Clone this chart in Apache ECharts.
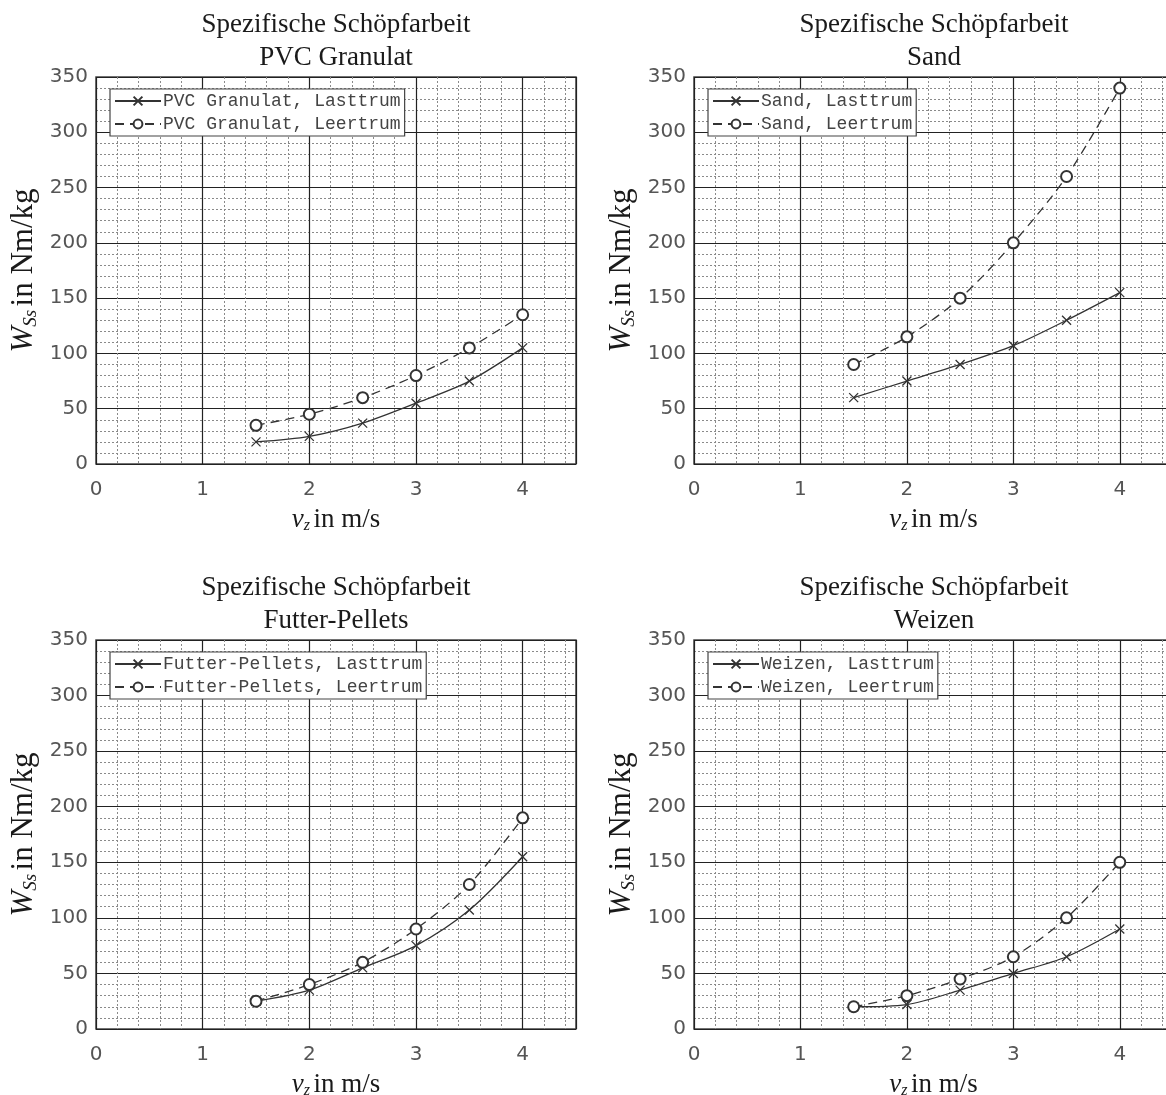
<!DOCTYPE html>
<html lang="de">
<head>
<meta charset="UTF-8">
<title>Spezifische Schöpfarbeit</title>
<script src="https://cdn.jsdelivr.net/npm/echarts@6/dist/echarts.min.js"></script>
<style>
  html, body { margin: 0; padding: 0; background: #fff; }
  #chart { width: 1166px; height: 1095px; }
</style>
</head>
<body>
<div id="chart"></div>
<script>
// Daten
var speeds = [1.5, 2, 2.5, 3, 3.5, 4];
var materials = ['PVC Granulat', 'Sand', 'Futter-Pellets', 'Weizen'];
var pvcLast = [20, 25, 37, 55, 75, 105];
var pvcLeer = [35, 45, 60, 80, 105, 135];
var sandLast = [60, 75, 90, 107, 130, 155];
var sandLeer = [90, 115, 150, 200, 260, 340];
var futterLast = [25, 35, 55, 75, 107, 155];
var futterLeer = [25, 40, 60, 90, 130, 190];
var weizenLast = [20, 22, 35, 50, 65, 90];
var weizenLeer = [20, 30, 45, 65, 100, 150];
var xTicks = [0, 1, 2, 3, 4];
var yTicks = [0, 50, 100, 150, 200, 250, 300, 350];

var lastData = [pvcLast, sandLast, futterLast, weizenLast];
var leerData = [pvcLeer, sandLeer, futterLeer, weizenLeer];

// Plotflächen
var boxes = [
  {left: 96, top: 77, width: 480, height: 387},
  {left: 694, top: 77, width: 479, height: 387},
  {left: 96, top: 640, width: 480, height: 389},
  {left: 694, top: 640, width: 479, height: 389}
];

var lineCol = '#333';
var crossPath = 'path://M0,0L10,10M10,0L0,10';

function pairs(vals) {
  var out = [];
  for (var i = 0; i < speeds.length; i++) out.push([speeds[i], vals[i]]);
  return out;
}

var grid = [], xAxis = [], yAxis = [], series = [], legend = [], title = [];

for (var k = 0; k < 4; k++) {
  var b = boxes[k];
  grid.push({
    left: b.left, top: b.top, width: b.width, height: b.height,
    show: true, borderColor: '#444', borderWidth: 1.5,
    containLabel: false, outerBoundsMode: 'none'
  });
  title.push({
    text: 'Spezifische Schöpfarbeit\n' + materials[k],
    left: b.left + 240, top: b.top - 69, textAlign: 'center', padding: 0,
    textStyle: {fontFamily: 'Liberation Serif', fontSize: 27, fontWeight: 'normal',
      color: '#1a1a1a', lineHeight: 33}
  });
  // feines Raster in x (0.2)
  xAxis.push({
    type: 'value', gridIndex: k, position: 'bottom', min: 0, max: 4.5, interval: 0.2,
    axisLine: {show: false}, axisTick: {show: false}, axisLabel: {show: false},
    splitLine: {show: true, lineStyle: {color: '#8a8a8a', width: 1, type: [2, 2]}}
  });
  // Hauptraster in x
  xAxis.push({
    type: 'value', gridIndex: k, position: 'bottom', min: 0, max: 4.5, interval: 1,
    name: '{v|v}{z|z} {r|in m/s}', nameLocation: 'middle', nameGap: 42,
    nameTextStyle: {
      rich: {
        v: {fontFamily: 'Liberation Serif', fontStyle: 'italic', fontSize: 27, color: '#1a1a1a'},
        z: {fontFamily: 'Liberation Serif', fontStyle: 'italic', fontSize: 16, color: '#1a1a1a', padding: [12, 0, 0, 0]},
        r: {fontFamily: 'Liberation Serif', fontSize: 27, color: '#1a1a1a'}
      }
    },
    axisLine: {show: false}, axisTick: {show: false},
    axisLabel: {
      margin: 16, color: '#555', fontFamily: 'DejaVu Sans', fontSize: 20,
      formatter: function (v) { return xTicks.indexOf(v) >= 0 ? String(v) : ''; }
    },
    splitLine: {show: true, lineStyle: {color: '#222', width: 1.2}}
  });
  yAxis.push({
    type: 'value', gridIndex: k, min: 0, max: 350, interval: 50,
    name: '{w|W}{s|Ss} {r|in Nm/kg}', nameLocation: 'middle', nameGap: 56, nameRotate: 90,
    nameTextStyle: {
      rich: {
        w: {fontFamily: 'Liberation Serif', fontStyle: 'italic', fontSize: 31, color: '#1a1a1a'},
        s: {fontFamily: 'Liberation Serif', fontStyle: 'italic', fontSize: 19, color: '#1a1a1a', padding: [14, 0, 0, 0]},
        r: {fontFamily: 'Liberation Serif', fontSize: 31, color: '#1a1a1a'}
      }
    },
    axisLine: {show: false}, axisTick: {show: false},
    axisLabel: {
      margin: 8, color: '#555', fontFamily: 'DejaVu Sans', fontSize: 20,
      formatter: function (v) { return yTicks.indexOf(v) >= 0 ? String(v) : ''; }
    },
    splitLine: {show: true, lineStyle: {color: '#222', width: 1.2}},
    minorTick: {show: false, splitNumber: 5},
    minorSplitLine: {show: true, lineStyle: {color: '#8a8a8a', width: 1, type: [2, 2]}}
  });

  var nLast = materials[k] + ', Lasttrum';
  var nLeer = materials[k] + ', Leertrum';
  series.push({
    name: nLast, type: 'line', xAxisIndex: 2 * k + 1, yAxisIndex: k,
    data: pairs(lastData[k]), smooth: 0.3,
    symbol: crossPath, symbolSize: 9,
    lineStyle: {color: lineCol, width: 1.3},
    itemStyle: {color: 'none', borderColor: lineCol, borderWidth: 1.3}
  });
  series.push({
    name: nLeer, type: 'line', xAxisIndex: 2 * k + 1, yAxisIndex: k,
    data: pairs(leerData[k]), smooth: 0.3,
    symbol: 'emptyCircle', symbolSize: 11,
    lineStyle: {color: lineCol, width: 1.3, type: [9, 6]},
    itemStyle: {color: lineCol, borderColor: lineCol, borderWidth: 1.3}
  });
  legend.push({
    data: [nLast, nLeer], orient: 'vertical',
    left: b.left + 14, top: b.top + 12,
    itemWidth: 46, itemHeight: 11, itemGap: 5,
    padding: [3, 4, 3, 4],
    backgroundColor: '#fff', borderColor: '#444', borderWidth: 1.2, borderRadius: 0,
    textStyle: {fontFamily: 'Liberation Mono', fontSize: 18, color: '#444', padding: [0, 0, 0, -3]},
    selectedMode: false
  });
}

var chart = echarts.init(document.getElementById('chart'), null, {renderer: 'canvas'});
chart.setOption({
  animation: false,
  backgroundColor: '#fff',
  title: title,
  grid: grid,
  xAxis: xAxis,
  yAxis: yAxis,
  legend: legend,
  series: series
});
</script>
</body>
</html>
